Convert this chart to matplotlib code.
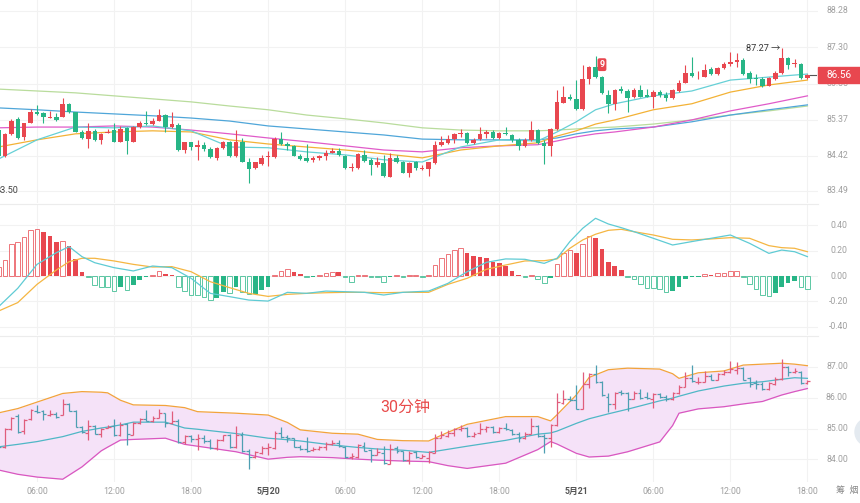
import matplotlib
matplotlib.use("Agg")
import matplotlib.pyplot as plt
import matplotlib.transforms as mtransforms
from matplotlib.patches import Rectangle, Ellipse
from matplotlib.lines import Line2D
import numpy as np

plt.rcParams['font.family'] = ['Roboto', 'Noto Sans CJK SC', 'DejaVu Sans']

# 30 min candles, index 0 = 03:00 on 5/19, index 126 = 18:00 on 5/21
opens = [85.10, 84.41, 84.99, 85.40, 84.91, 85.30, 85.57, 85.56, 85.43, 85.46,
         85.44, 85.80, 85.57, 85.06, 84.86, 85.08, 84.84, 85.03, 85.10, 84.79,
         85.15, 84.79, 85.18, 85.30, 85.26, 85.35, 85.50, 85.19, 85.24, 84.57,
         84.77, 84.66, 84.71, 84.59, 84.37, 84.62, 84.78, 84.40, 84.78, 84.26,
         84.09, 84.20, 84.38, 84.38, 84.86, 84.72, 84.68, 84.41, 84.35, 84.31,
         84.35, 84.41, 84.50, 84.55, 84.41, 84.08, 84.09, 84.44, 84.31, 84.16,
         84.22, 83.86, 84.37, 84.26, 83.97, 84.24, 84.06, 84.06, 84.22, 84.71,
         84.75, 84.86, 85.00, 85.03, 84.75, 84.86, 85.00, 85.06, 84.88, 85.03,
         84.97, 84.84, 84.68, 84.84, 85.10, 84.75, 84.68, 85.12, 85.83, 85.97,
         85.92, 85.65, 86.45, 86.77, 86.50, 86.04, 85.80, 86.19, 86.15, 85.97,
         86.17, 86.04, 85.97, 86.12, 86.04, 85.95, 86.15, 86.36, 86.63, 86.51,
         86.52, 86.72, 86.59, 86.76, 86.85, 86.91, 86.97, 86.63, 86.48, 86.46,
         86.28, 86.46, 86.61, 87.01, 86.85, 86.85, 86.48]
highs = [85.15, 85.02, 85.39, 85.46, 85.30, 85.65, 85.77, 85.59, 85.61, 85.55,
         85.95, 85.83, 85.59, 85.10, 85.28, 85.12, 85.02, 85.12, 85.30, 85.22,
         85.17, 85.22, 85.33, 85.61, 85.41, 85.65, 85.52, 85.57, 85.30, 84.79,
         84.79, 84.84, 84.79, 84.66, 84.66, 84.80, 84.81, 85.10, 84.88, 84.35,
         84.26, 84.44, 84.53, 84.91, 85.04, 84.79, 84.71, 84.47, 84.72, 84.40,
         84.44, 84.57, 84.62, 84.62, 84.44, 84.22, 84.50, 84.57, 84.35, 84.38,
         84.44, 84.50, 84.44, 84.28, 84.26, 84.28, 84.17, 84.26, 84.81, 84.93,
         84.97, 85.03, 85.12, 85.06, 84.88, 85.17, 85.09, 85.10, 85.06, 85.18,
         85.00, 84.88, 84.88, 85.35, 85.12, 84.84, 85.15, 86.17, 86.26, 86.06,
         86.43, 86.83, 86.81, 87.07, 86.54, 86.17, 86.19, 86.26, 86.19, 86.21,
         86.30, 86.19, 86.17, 86.17, 86.10, 86.19, 86.43, 86.83, 87.05, 86.66,
         86.86, 86.77, 86.79, 86.90, 87.19, 87.16, 87.01, 86.66, 86.59, 86.50,
         86.50, 86.66, 87.27, 87.04, 86.98, 86.88, 86.59]
lows = [83.50, 84.38, 84.97, 84.86, 84.84, 85.28, 85.50, 85.28, 85.41, 85.33,
        85.44, 85.56, 85.04, 84.86, 84.62, 84.81, 84.73, 85.02, 84.77, 84.77,
        84.47, 84.78, 85.15, 85.24, 85.23, 85.33, 85.06, 85.15, 84.55, 84.50,
        84.57, 84.31, 84.53, 84.35, 84.31, 84.59, 84.38, 84.38, 84.24, 83.70,
        84.06, 84.17, 84.15, 84.35, 84.71, 84.57, 84.40, 84.31, 84.25, 84.26,
        84.31, 84.31, 84.48, 84.41, 84.06, 84.02, 84.06, 84.26, 83.91, 84.13,
        83.85, 83.84, 84.22, 83.95, 83.85, 84.04, 84.04, 83.88, 84.20, 84.68,
        84.73, 84.75, 84.91, 84.73, 84.72, 84.84, 84.88, 84.86, 84.86, 84.97,
        84.79, 84.57, 84.66, 84.82, 84.73, 84.20, 84.40, 85.10, 85.81, 85.90,
        85.64, 85.64, 86.32, 86.48, 86.06, 85.55, 85.64, 86.08, 85.57, 85.95,
        85.97, 85.97, 85.68, 85.99, 85.88, 85.92, 86.12, 86.35, 86.52, 86.45,
        86.51, 86.57, 86.57, 86.73, 86.81, 86.77, 86.57, 86.35, 86.30, 86.24,
        86.26, 86.43, 86.59, 86.72, 86.79, 86.45, 86.46]
closes = [84.40, 84.99, 85.33, 84.90, 85.28, 85.59, 85.53, 85.46, 85.46, 85.37,
          85.80, 85.57, 85.06, 84.88, 85.08, 84.84, 84.99, 85.06, 84.79, 85.12,
          84.81, 85.19, 85.30, 85.26, 85.35, 85.50, 85.19, 85.26, 84.57, 84.77,
          84.66, 84.71, 84.59, 84.38, 84.62, 84.78, 84.40, 84.78, 84.26, 84.07,
          84.24, 84.37, 84.41, 84.86, 84.72, 84.68, 84.41, 84.33, 84.29, 84.35,
          84.41, 84.50, 84.55, 84.44, 84.09, 84.11, 84.47, 84.29, 84.16, 84.24,
          83.88, 84.35, 84.26, 83.97, 84.22, 84.09, 84.10, 84.24, 84.71, 84.79,
          84.86, 85.00, 85.03, 84.75, 84.84, 84.99, 85.04, 84.88, 85.03, 84.99,
          84.84, 84.68, 84.84, 85.10, 84.75, 84.68, 85.12, 85.86, 85.97, 85.92,
          85.65, 86.45, 86.77, 86.50, 86.08, 85.80, 86.17, 86.14, 85.95, 86.17,
          85.99, 85.99, 86.12, 86.04, 85.95, 86.17, 86.36, 86.63, 86.54, 86.52,
          86.70, 86.59, 86.76, 86.85, 86.92, 86.97, 86.59, 86.45, 86.46, 86.28,
          86.48, 86.61, 87.01, 86.83, 86.88, 86.48, 86.56]

# moving averages at these candles
ma_idx = [0, 6, 12, 18, 24, 30, 36, 42, 48, 54, 60, 66, 72, 78, 84, 87, 90, 93, 96,
          102, 108, 114, 120, 126]
ma_cyan = [84.33, 84.84, 85.18, 85.16, 85.21, 85.08, 84.65, 84.63, 84.52, 84.44, 84.31,
           84.25, 84.65, 84.84, 84.81, 85.05, 85.32, 85.64, 85.80, 86.01, 86.14, 86.43,
           86.51, 86.59]
ma_orange = [84.65, 84.84, 85.00, 85.05, 85.08, 85.05, 84.84, 84.73, 84.65, 84.57, 84.47,
             84.36, 84.57, 84.68, 84.76, 84.94, 85.08, 85.26, 85.37, 85.64, 85.80, 86.11,
             86.30, 86.43]
ma_magenta = [85.16, 85.18, 85.18, 85.21, 85.18, 85.10, 85.00, 84.89, 84.79, 84.68, 84.57,
              84.52, 84.63, 84.68, 84.71, 84.81, 84.92, 85.00, 85.05, 85.18, 85.37, 85.61,
              85.80, 86.01]
ma_blue = [85.69, 85.64, 85.58, 85.53, 85.48, 85.42, 85.34, 85.21, 85.13, 85.05, 84.97,
           84.86, 84.84, 84.84, 84.84, 84.89, 85.00, 85.08, 85.13, 85.18, 85.32, 85.50,
           85.64, 85.77]
ma_green = [86.19, 86.14, 86.09, 86.01, 85.93, 85.85, 85.74, 85.64, 85.50, 85.40, 85.29,
            85.16, 85.10, 85.08, 85.08, 85.10, 85.13, 85.16, 85.18, 85.26, 85.37, 85.50,
            85.61, 85.74]

# MACD
macd_hist = [0.07, 0.126, 0.25, 0.266, 0.308, 0.361, 0.372, 0.35, 0.319, 0.266,
             0.277, 0.24, 0.132, 0.034, -0.01, -0.071, -0.084, -0.086, -0.116, -0.09,
             -0.113, -0.071, -0.032, -0.01, 0.008, 0.04, 0.016, 0.008, -0.084, -0.119,
             -0.15, -0.152, -0.164, -0.19, -0.171, -0.13, -0.137, -0.084, -0.13, -0.145,
             -0.143, -0.11, -0.084, 0.008, 0.04, 0.055, 0.034, 0.016, -0.008, -0.006,
             0.008, 0.02, 0.034, 0.03, -0.008, -0.045, 0.003, 0.004, -0.008, -0.008,
             -0.05, -0.005, 0.005, -0.008, 0.004, 0.004, -0.006, 0.005, 0.087, 0.14,
             0.171, 0.205, 0.219, 0.184, 0.161, 0.153, 0.145, 0.113, 0.1, 0.082,
             0.04, 0.008, -0.008, 0.005, -0.024, -0.058, -0.013, 0.092, 0.179, 0.205,
             0.179, 0.25, 0.319, 0.303, 0.214, 0.113, 0.079, 0.045, -0.008, -0.024,
             -0.066, -0.092, -0.097, -0.103, -0.13, -0.119, -0.084, -0.024, -0.008, -0.006,
             0.016, 0.003, 0.021, 0.026, 0.04, 0.042, -0.005, -0.066, -0.105, -0.15,
             -0.155, -0.137, -0.084, -0.058, -0.04, -0.084, -0.103]
macd_idx = [0, 3, 6, 9, 11, 13, 15, 18, 21, 24, 27, 30, 33, 36, 39, 42, 45, 48, 51, 54,
            57, 60, 63, 67, 70, 73, 76, 79, 82, 85, 87, 89, 91, 93, 95, 97, 99, 102, 105,
            108, 111, 114, 117, 120, 122, 124, 126]
dif = [-0.243, -0.097, 0.092, 0.184, 0.232, 0.153, 0.105, 0.066, 0.04, 0.079, 0.066,
       -0.018, -0.137, -0.163, -0.19, -0.198, -0.129, -0.137, -0.119, -0.124, -0.129,
       -0.15, -0.129, -0.119, -0.058, 0.034, 0.108, 0.135, 0.132, 0.1, 0.14, 0.272,
       0.377, 0.456, 0.411, 0.382, 0.35, 0.298, 0.245, 0.272, 0.298, 0.324, 0.258,
       0.179, 0.205, 0.192, 0.153]
dea = [-0.277, -0.21, -0.066, 0.047, 0.113, 0.14, 0.14, 0.119, 0.092, 0.071, 0.074,
       0.034, -0.045, -0.092, -0.137, -0.161, -0.145, -0.137, -0.132, -0.129, -0.129,
       -0.132, -0.129, -0.129, -0.066, -0.018, 0.053, 0.087, 0.119, 0.121, 0.135, 0.219,
       0.285, 0.33, 0.361, 0.369, 0.35, 0.324, 0.29, 0.285, 0.293, 0.303, 0.298,
       0.24, 0.224, 0.219, 0.192]

# bollinger bands
boll_idx = [0, 3, 6, 10, 13, 16, 17, 19, 21, 26, 29, 31, 37, 42, 45, 47, 52, 56, 59,
            63, 67, 70, 73, 79, 84, 86, 87, 90, 92, 95, 98, 103, 105, 106, 109, 113,
            116, 119, 122, 124, 126]
boll_up = [85.51, 85.65, 85.86, 86.14, 86.20, 86.18, 86.16, 85.92, 85.77, 85.75, 85.68,
           85.55, 85.50, 85.44, 85.20, 84.96, 84.85, 84.82, 84.65, 84.61, 84.60, 84.88,
           85.14, 85.39, 85.39, 85.25, 85.45, 86.09, 86.66, 86.91, 86.96, 86.93, 86.78,
           86.63, 86.81, 86.87, 87.06, 87.09, 87.12, 87.09, 87.04]
boll_mid = [84.41, 84.49, 84.58, 84.74, 84.91, 85.02, 85.05, 85.12, 85.21, 85.21, 85.02,
            84.98, 84.84, 84.69, 84.64, 84.60, 84.47, 84.39, 84.34, 84.30, 84.23, 84.33,
            84.43, 84.62, 84.82, 84.86, 84.92, 85.17, 85.32, 85.48, 85.63, 85.90, 85.99,
            86.05, 86.22, 86.38, 86.47, 86.52, 86.60, 86.65, 86.63]
boll_low = [83.66, 83.52, 83.43, 83.36, 83.76, 84.28, 84.40, 84.63, 84.65, 84.69, 84.49,
            84.43, 84.25, 84.01, 84.07, 84.09, 84.06, 84.01, 83.98, 83.95, 83.93, 83.80,
            83.71, 83.88, 84.32, 84.58, 84.50, 84.20, 84.08, 84.11, 84.25, 84.57, 85.10,
            85.50, 85.64, 85.71, 85.80, 85.88, 86.09, 86.20, 86.30]

time_idx = [6, 18, 30, 42, 54, 66, 78, 90, 102, 114, 126]
time_labels = ['06:00', '12:00', '18:00', '5月20', '06:00', '12:00', '18:00', '5月21',
               '06:00', '12:00', '18:00']
top_ticks = [88.28, 87.30, 86.33, 85.37, 84.42, 83.49]
macd_ticks = [0.40, 0.20, 0.00, -0.20, -0.40]
low_ticks = [87.00, 86.00, 85.00, 84.00]
last_price = 86.56
low_mark = 83.50

RED = '#e8474f'
GREEN = '#27b586'
GRID = '#f2f2f2'
TICK = '#a0a0a0'

W, H = 860, 503
fig = plt.figure(figsize=(W / 100, H / 100), dpi=100)


def px_axes(y0, y1):
    return fig.add_axes([0, 1 - y1 / H, 818 / W, (y1 - y0) / H])


ax1 = px_axes(0, 203)
ax2 = px_axes(205, 335)
ax3 = px_axes(337, 482)

xmin, xmax = 0.234, 127.65
for ax in (ax1, ax2, ax3):
    ax.set_xlim(xmin, xmax)
    for s in ax.spines.values():
        s.set_visible(False)
    ax.set_xticks([])
    ax.set_yticks([])
    for t in time_idx:
        ax.axvline(t, color=GRID, lw=0.8, zorder=0)

ax1.set_ylim(83.16, 88.56)
ax2.set_ylim(-0.466, 0.561)
ax3.set_ylim(83.27, 87.97)

idx = np.arange(len(closes))
o = np.array(opens)
h = np.array(highs)
l = np.array(lows)
c = np.array(closes)
up = c >= o
cols = np.where(up, RED, GREEN)

# top panel: candles + moving averages
for v in top_ticks:
    ax1.axhline(v, color=GRID, lw=0.8, zorder=0)
ax1.plot(ma_idx, ma_green, color='#b9dc9c', lw=0.9, zorder=2)
ax1.plot(ma_idx, ma_blue, color='#4fa6d9', lw=0.9, zorder=2)
ax1.plot(ma_idx, ma_magenta, color='#e05bc9', lw=0.9, zorder=2)
ax1.plot(ma_idx, ma_orange, color='#f3b236', lw=0.9, zorder=2)
ax1.plot(ma_idx, ma_cyan, color='#66d0d6', lw=0.9, zorder=2)
ax1.vlines(idx, l, h, colors=cols, lw=0.8, zorder=3)
body = np.maximum(np.abs(c - o), 0.012)
ax1.bar(idx, body, bottom=np.minimum(o, c), width=0.7, color=cols, zorder=4)

ax1.annotate('87.27 →', xy=(121.8, 87.27), ha='right', va='center', fontsize=6.6,
             color='#333333', zorder=5)
ax1.text(-0.4, low_mark, '{:.2f}'.format(low_mark), ha='left', va='center',
         fontsize=6.6, color='#444444', zorder=5)
ax1.text(94, 86.84, '9', color='white', fontsize=6.3, fontweight='bold', ha='center',
         va='center', zorder=5,
         bbox=dict(boxstyle='round,pad=0.22', fc=RED, ec='none'))

# MACD panel
for v in macd_ticks:
    ax2.axhline(v, color=GRID, lw=0.8, zorder=0)
hist = np.array(macd_hist)
prev = np.concatenate([[0.0], hist[:-1]])
for i, v in enumerate(hist):
    color = RED if v >= 0 else GREEN
    growing = (v >= 0 and v >= prev[i]) or (v < 0 and v <= prev[i])
    hv = v if abs(v) > 0.008 else np.sign(v) * 0.008
    if growing:
        ax2.bar(i, hv, width=0.72, facecolor='white', edgecolor=color, lw=0.7,
                alpha=0.75, zorder=2)
    else:
        ax2.bar(i, hv, width=0.72, color=color, zorder=2)
ax2.plot(macd_idx, dea, color='#f5b642', lw=0.9, zorder=3)
ax2.plot(macd_idx, dif, color='#5fcbd4', lw=0.9, zorder=3)

# bottom panel: bollinger + ohlc bars
for v in low_ticks:
    ax3.axhline(v, color=GRID, lw=0.8, zorder=0)
ax3.fill_between(boll_idx, boll_low, boll_up, color='#f5e2f8', lw=0, zorder=1)
ax3.plot(boll_idx, boll_up, color='#f2a33c', lw=0.9, zorder=2)
ax3.plot(boll_idx, boll_low, color='#d957c0', lw=0.9, zorder=2)
ax3.plot(boll_idx, boll_mid, color='#4fb7c6', lw=0.9, zorder=2)
bar_cols = np.where(up, '#e05d7c', '#4e9fb2')
ax3.vlines(idx, l, h, colors=bar_cols, lw=0.9, zorder=3)
ax3.hlines(o, idx - 0.45, idx, colors=bar_cols, lw=0.9, zorder=3)
ax3.hlines(c, idx, idx + 0.45, colors=bar_cols, lw=0.9, zorder=3)
ax3.text(63.3, 85.70, '30分钟', color='#e84a4a', fontsize=11.5, ha='center', va='center',
         zorder=5)

# right hand price labels
for ax, ticks, xpos, ha in ((ax1, top_ticks, 1.011, 'left'),
                            (ax2, macd_ticks, 1.0365, 'right'),
                            (ax3, low_ticks, 1.0365, 'right')):
    tr = mtransforms.blended_transform_factory(ax.transAxes, ax.transData)
    for v in ticks:
        ax.text(xpos, v, '{:.2f}'.format(v), transform=tr, ha=ha, va='center',
                fontsize=6.3, color=TICK, clip_on=False)

# last price tag
ytag = 1 - (120 - (last_price - 85.37) * 37.6) / H
fig.patches.append(Rectangle((818 / W, ytag - 8 / H), 42 / W, 16 / H,
                             transform=fig.transFigure, color=RED, zorder=3))
fig.text(839 / W, ytag, '{:.2f}'.format(last_price), color='white', fontsize=7.2,
         ha='center', va='center', zorder=4)
fig.lines.append(Line2D([810 / W, 816 / W], [ytag, ytag], transform=fig.transFigure,
                        color='#555555', lw=0.8))

# panel separators
for ysep in (204, 336):
    fig.lines.append(Line2D([0, 818 / W], [1 - ysep / H, 1 - ysep / H],
                            transform=fig.transFigure, color='#ececec', lw=0.8))

# time labels
for t, lab in zip(time_idx, time_labels):
    xf = (t * 6.42 - 1.5) / W
    bold = '月' in lab
    fig.text(xf, 1 - 491 / H, lab, ha='center', va='center', fontsize=6.3,
             color='#555555' if bold else TICK, fontweight='bold' if bold else 'normal')
fig.text(847 / W, 1 - 491 / H, '筹  烟', ha='center', va='center', fontsize=6.5,
         color='#888888')

fig.patches.append(Ellipse((869 / W, 1 - 432 / H), 28 / W, 28 / H,
                           transform=fig.transFigure, color='#e4eaf0', zorder=2))

fig.savefig('out.png', dpi=100, facecolor='white')
